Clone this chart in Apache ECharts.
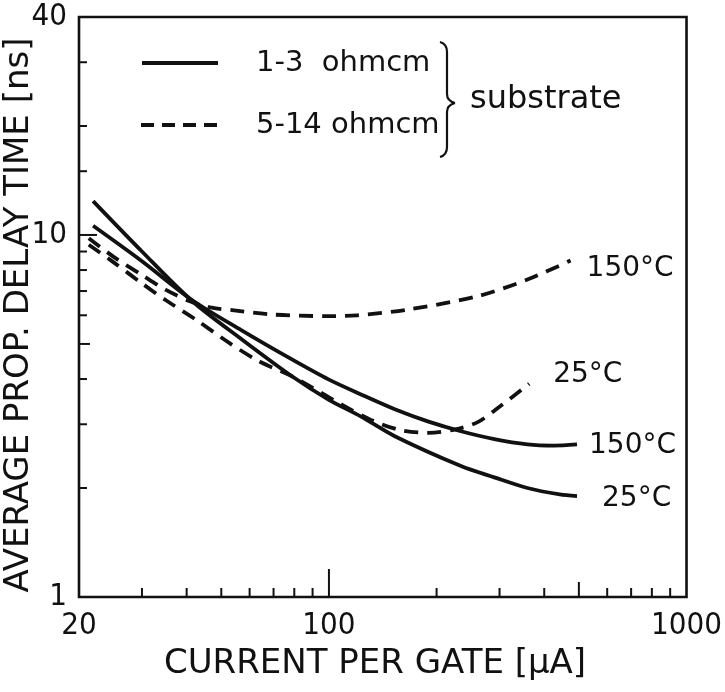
<!DOCTYPE html>
<html><head><meta charset="utf-8">
<script src="https://cdn.jsdelivr.net/npm/echarts@6/dist/echarts.min.js"></script>
<style>html,body{margin:0;padding:0;background:#fff}#c{width:725px;height:692px}</style>
</head><body><div id="c"></div>
<script>
// ---- data ----
const solid25Current  = [21.9, 30, 41.5, 57, 78.8, 99.7, 123, 152.8, 234, 290, 359, 442, 494];
const solid25Delay    = [12.4, 9.0, 6.56, 5.15, 4.07, 3.51, 3.15, 2.78, 2.30, 2.14, 2.00, 1.92, 1.90];
const solid150Current = [21.9, 30, 41.5, 57, 78.8, 99.7, 123.4, 152.8, 189.9, 234, 290, 359, 425, 494];
const solid150Delay   = [10.6, 8.46, 6.6, 5.45, 4.53, 3.99, 3.62, 3.30, 3.05, 2.87, 2.73, 2.64, 2.62, 2.64];
const dashed150Current = [21.3, 25, 30, 35, 41, 47, 53.6, 69.3, 97.5, 120, 166, 260, 359, 474];
const dashed150Delay   = [9.8, 8.7, 7.75, 7.05, 6.55, 6.3, 6.2, 6.03, 5.97, 6.0, 6.22, 6.77, 7.53, 8.5];
const dashed25Current = [21.3, 25, 30, 35, 42.4, 52.5, 63.7, 78.8, 108.6, 130.6, 156.3, 189.9, 224, 260.6, 303, 363];
const dashed25Delay   = [9.4, 8.4, 7.35, 6.6, 5.84, 5.04, 4.48, 4.07, 3.40, 3.09, 2.90, 2.84, 2.90, 3.04, 3.38, 3.88];

const xTickValues = [30, 40, 50, 60, 70, 80, 90, 100, 200, 300, 400, 500, 600, 700, 800, 900];
const yTickValues = [2, 3, 4, 5, 6, 7, 8, 9, 10, 15, 20, 30];
const xLongTicks = [100];
const xMidTicks = [500];
const yLongTicks = [10];
const yMidTicks = [5];

const legendLabels = ['1-3  ohmcm', '5-14 ohmcm'];
const braceLabel = 'substrate';
const xTitle = 'CURRENT PER GATE [\u03BCA]';
const yTitle = 'AVERAGE PROP. DELAY TIME [ns]';
const label150 = '150\u00B0C';
const label25 = '25\u00B0C';

// ---- chart ----
const INK = '#111';
const TXT = "'DejaVu Sans', sans-serif";
const NUM = "'Liberation Sans Narrow', 'DejaVu Sans Condensed', sans-serif";
const zip = (a, b) => a.map((v, i) => [v, b[i]]);

function endLbl(text, dist, off) {
  return { show: true, formatter: text, distance: dist, offset: off,
    fontFamily: TXT, fontSize: 28, color: INK };
}
function curve(name, xs, ys, dashed, lbl) {
  return {
    type: 'line', name, data: zip(xs, ys), smooth: 0.3, symbol: 'none',
    lineStyle: { color: INK, width: 3.8, type: dashed ? [14, 9] : 'solid', cap: 'butt' },
    endLabel: lbl, clip: false, z: 3
  };
}
const braceStyle = { stroke: INK, lineWidth: 2.2, fill: null };
function quad(x1, y1, cx, cy, x2, y2) {
  return { type: 'bezierCurve', shape: { x1, y1, cpx1: cx, cpy1: cy, x2, y2 }, style: braceStyle };
}
function seg(x1, y1, x2, y2) {
  return { type: 'line', shape: { x1, y1, x2, y2 }, style: braceStyle };
}

const chart = echarts.init(document.getElementById('c'), null, { renderer: 'canvas' });
chart.setOption({
  animation: false,
  backgroundColor: '#fff',
  grid: { left: 79, top: 17, right: 35, bottom: 95, show: true, borderColor: INK, borderWidth: 2.6, backgroundColor: 'transparent' },
  xAxis: {
    type: 'log', logBase: 10, min: 20, max: 1000,
    axisLine: { show: false }, axisTick: { show: false }, splitLine: { show: false }, minorTick: { show: false },
    axisLabel: { margin: 13, fontFamily: NUM, fontSize: 31, color: INK, formatter: v => String(Math.round(v)) }
  },
  yAxis: {
    type: 'log', logBase: 10, min: 1, max: 40,
    axisLine: { show: false }, axisTick: { show: false }, splitLine: { show: false },
    axisLabel: { margin: 12, fontFamily: NUM, fontSize: 31, color: INK, formatter: v => String(Math.round(v)) }
  },
  series: [
    curve('1-3 ohmcm 25', solid25Current, solid25Delay, false, endLbl(label25, 25, [0, 3])),
    curve('1-3 ohmcm 150', solid150Current, solid150Delay, false, endLbl(label150, 12, [0, 1])),
    curve('5-14 ohmcm 150', dashed150Current, dashed150Delay, true, endLbl(label150, 16, [0, 8])),
    curve('5-14 ohmcm 25', dashed25Current, dashed25Delay, true, endLbl(label25, 24, [0, -9])),
    {
      type: 'custom', name: 'xticks', clip: false, z: 4,
      data: xTickValues.map(v => [v, 1]),
      renderItem(params, api) {
        const v = api.value(0);
        const p = api.coord([v, api.value(1)]);
        const len = xLongTicks.includes(v) ? 28 : (xMidTicks.includes(v) ? 15 : 9);
        return { type: 'line', shape: { x1: p[0], y1: p[1], x2: p[0], y2: p[1] - len }, style: { stroke: INK, lineWidth: 2 } };
      }
    },
    {
      type: 'custom', name: 'yticks', clip: false, z: 4,
      data: yTickValues.map(v => [20, v]),
      renderItem(params, api) {
        const v = api.value(1);
        const p = api.coord([api.value(0), v]);
        const len = yLongTicks.includes(v) ? 18 : (yMidTicks.includes(v) ? 11 : 8);
        return { type: 'line', shape: { x1: p[0], y1: p[1], x2: p[0] + len, y2: p[1] }, style: { stroke: INK, lineWidth: 2 } };
      }
    }
  ],
  graphic: [
    { type: 'line', shape: { x1: 142, y1: 63, x2: 218, y2: 63 }, style: { stroke: INK, lineWidth: 4 } },
    { type: 'line', shape: { x1: 141, y1: 125, x2: 218, y2: 125 }, style: { stroke: INK, lineWidth: 4, lineDash: [13, 8] } },
    { type: 'text', x: 256, y: 63, style: { text: legendLabels[0], font: "29px 'DejaVu Sans'", fill: INK, textAlign: 'left', textVerticalAlign: 'middle' } },
    { type: 'text', x: 256, y: 125, style: { text: legendLabels[1], font: "29px 'DejaVu Sans'", fill: INK, textAlign: 'left', textVerticalAlign: 'middle' } },
    quad(440, 42, 447, 44, 447, 52),
    seg(447, 52, 447, 94),
    quad(447, 94, 447, 101, 455, 103),
    quad(455, 103, 447, 105, 447, 112),
    seg(447, 112, 447, 147),
    quad(447, 147, 447, 155, 440, 157),
    { type: 'text', x: 470, y: 100, style: { text: braceLabel, font: "32px 'DejaVu Sans'", fill: INK, textAlign: 'left', textVerticalAlign: 'middle' } },
    { type: 'text', x: 375, y: 664, style: { text: xTitle, font: "34px 'DejaVu Sans'", fill: INK, textAlign: 'center', textVerticalAlign: 'middle' } },
    { type: 'text', x: 19, y: 315, rotation: Math.PI / 2, style: { text: yTitle, font: "34px 'DejaVu Sans'", fill: INK, textAlign: 'center', textVerticalAlign: 'middle' } }
  ]
});
</script></body></html>
